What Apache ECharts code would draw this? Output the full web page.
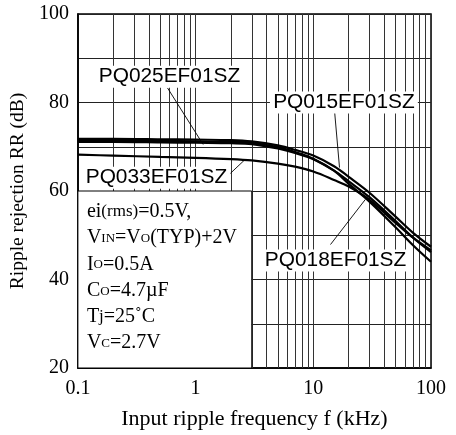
<!DOCTYPE html>
<html><head><meta charset="utf-8">
<script src="https://cdn.jsdelivr.net/npm/echarts@6/dist/echarts.min.js"></script>
<style>html,body{margin:0;padding:0;background:#fff}#c{width:456px;height:435px}</style>
</head><body><div id="c"></div>
<script>
// ---- data ----
const freqs = [0.1, 0.2, 0.5, 1, 2, 3, 5, 7, 10, 15, 20, 30, 50, 70, 100]; // kHz
const pq015 = [71.8, 71.8, 71.7, 71.6, 71.5, 71.2, 70.3, 69.3, 68.0, 65.6, 63.2, 59.6, 54.2, 50.6, 47.4];
const pq025 = [71.1, 71.1, 71.0, 70.9, 70.8, 70.6, 69.6, 68.6, 67.2, 64.6, 62.2, 58.6, 53.2, 49.5, 46.2];
const pq018 = [71.4, 71.4, 71.3, 71.2, 71.1, 70.9, 69.9, 68.8, 67.3, 64.6, 61.6, 57.6, 51.8, 47.8, 44.0];
const pq033 = [68.2, 68.0, 67.7, 67.5, 67.2, 66.9, 66.2, 65.5, 64.4, 62.5, 61.0, 58.0, 52.8, 49.5, 46.6];
const seriesNames = ['PQ015EF01SZ', 'PQ025EF01SZ', 'PQ018EF01SZ', 'PQ033EF01SZ'];
const seriesValues = [pq015, pq025, pq018, pq033];
const xTickLabels = ['0.1', '1', '10', '100'];
const yTickLabels = ['20', '40', '60', '80', '100'];
const minorGridX = [0.2,0.3,0.4,0.5,0.6,0.7,0.8,0.9, 2,3,4,5,6,7,8,9, 20,30,40,50,60,70,80,90];
// annotation anchors in data coordinates (kHz, dB)
const labelNames = ['PQ025EF01SZ', 'PQ015EF01SZ', 'PQ033EF01SZ', 'PQ018EF01SZ'];
const labelAt = [[0.6, 85.8], [18.2, 80.0], [0.465, 63.0], [15.45, 44.3]];
const leaders = [[[0.577, 83.3], [1.16, 70.5]], [[15.2, 77.7], [16.7, 65.3]], [[1.89, 63.5], [2.58, 66.9]], [[14.0, 47.9], [27.7, 58.1]]];
const condBox = [[0.1, 20], [3, 60]];
const condLines = [
  [['ei', 'b'], ['(rms)', 'm'], ['=0.5V,', 'b']],
  [['V', 'b'], ['IN', 's'], ['=V', 'b'], ['O', 's'], ['(TYP)+2V', 'b']],
  [['I', 'b'], ['O', 's'], ['=0.5A', 'b']],
  [['C', 'b'], ['O', 's'], ['=4.7µF', 'b']],
  [['T', 'b'], ['j', 'm'], ['=25˚C', 'b']],
  [['V', 'b'], ['C', 's'], ['=2.7V', 'b']]
];

const serif = '"Liberation Serif", "Times New Roman", serif';
const sans = '"Liberation Sans", Arial, sans-serif';

const chart = echarts.init(document.getElementById('c'), null, {renderer: 'canvas'});

const series = seriesValues.map((vals, i) => ({
  name: seriesNames[i], type: 'line', smooth: 0.35, symbol: 'none', z: 4,
  lineStyle: {color: '#000', width: 2.2},
  data: freqs.map((f, j) => [f, vals[j]])
}));
// minor grid lines + white condition box + leader lines
series.push({
  type: 'line', data: [], z: 1, silent: true,
  markLine: {
    z: 1, silent: true, symbol: 'none', animation: false,
    label: {show: false}, lineStyle: {color: '#333', width: 1, type: 'solid'},
    data: minorGridX.map(v => ({xAxis: v}))
  },
  markArea: {
    z: 2, silent: true, animation: false,
    itemStyle: {color: '#fff', borderColor: '#000', borderWidth: 1},
    data: [[{coord: condBox[0]}, {coord: condBox[1]}]]
  }
});
series.push({
  type: 'line', data: [], z: 5, silent: true,
  markLine: {
    z: 5, silent: true, symbol: 'none', animation: false,
    label: {show: false}, lineStyle: {color: '#000', width: 0.9, type: 'solid'},
    data: leaders.map(l => [{coord: l[0]}, {coord: l[1]}])
  }
});

chart.setOption({
  animation: false,
  backgroundColor: '#fff',
  grid: {left: 76, right: 25, top: 14, bottom: 66, show: true, borderColor: '#000', borderWidth: 1.5, containLabel: false},
  xAxis: {
    type: 'log', logBase: 10, min: 0.1, max: 100,
    axisLine: {show: true, lineStyle: {color: '#000', width: 1.5}},
    axisTick: {show: false},
    splitLine: {show: true, lineStyle: {color: '#333', width: 1}},
    axisLabel: {
      color: '#000', fontFamily: serif, fontSize: 20, margin: 11,
      formatter: v => { const k = Math.round(Math.log10(v)) + 1; return xTickLabels[k] || ''; }
    },
    name: 'Input ripple frequency f (kHz)', nameLocation: 'middle', nameGap: 40,
    nameTextStyle: {color: '#000', fontFamily: serif, fontSize: 22}
  },
  yAxis: {
    type: 'value', min: 20, max: 100, interval: 10,
    axisLine: {show: true, lineStyle: {color: '#000', width: 1.5}},
    axisTick: {show: false},
    splitLine: {show: true, lineStyle: {color: '#222', width: 1}},
    axisLabel: {
      color: '#000', fontFamily: serif, fontSize: 20, margin: 9,
      formatter: v => (v % 20 === 0 ? yTickLabels[(v - 20) / 20] : '')
    },
    name: 'Ripple rejection RR (dB)', nameLocation: 'middle', nameGap: 38,
    nameTextStyle: {color: '#000', fontFamily: serif, fontSize: 19.5}
  },
  series: series
});

// annotations placed from data coordinates
const px = p => chart.convertToPixel({xAxisIndex: 0, yAxisIndex: 0}, p);
const graphics = labelNames.map((t, i) => {
  const p = px(labelAt[i]);
  return {
    type: 'text', x: p[0], y: p[1], z: 100, scaleX: 1.07, silent: true,
    style: {text: t, font: '19.5px ' + sans, fill: '#000', align: 'center', verticalAlign: 'middle',
            backgroundColor: '#fff', padding: [1, 3]}
  };
});
const boxTL = px([condBox[0][0], condBox[1][1]]);
condLines.forEach((line, i) => {
  const text = line.map(([s, k]) => '{' + k + '|' + s + '}').join('');
  graphics.push({
    type: 'text', x: boxTL[0] + 9, y: boxTL[1] + 11 + i * 26.2, z: 100, silent: true,
    style: {
      text: text, fill: '#000', align: 'left', verticalAlign: 'top',
      rich: {
        b: {fontFamily: serif, fontSize: 20, verticalAlign: 'bottom', fill: '#000'},
        m: {fontFamily: serif, fontSize: 17, verticalAlign: 'bottom', fill: '#000', padding: [0, 0, 2, 0]},
        s: {fontFamily: serif, fontSize: 13, verticalAlign: 'bottom', fill: '#000', padding: [0, 0, 3, 0]}
      }
    }
  });
});
chart.setOption({graphic: graphics});
</script>
</body></html>
